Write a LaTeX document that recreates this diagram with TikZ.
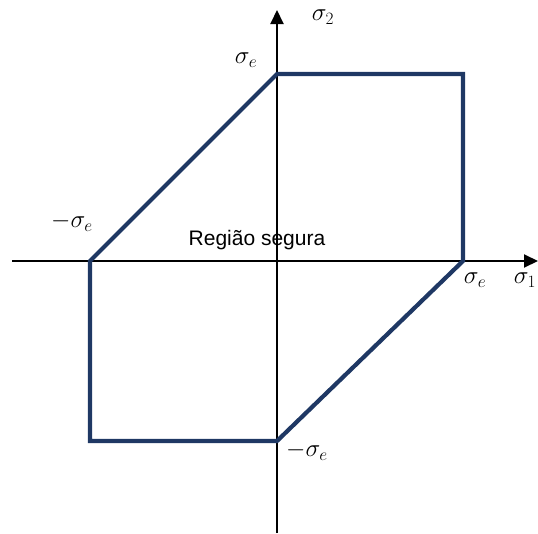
\documentclass[tikz,border=0pt]{standalone}
\usepackage{fontspec}
\setmainfont{Liberation Sans}
\usetikzlibrary{arrows.meta,positioning}
\definecolor{Rg}{HTML}{1F3864}
\tikzset{
  ax/.style={-{Triangle[length=14pt,width=13pt]}, line width=2pt},
  bnd/.style={draw=Rg, line width=4.2pt, line join=miter},
  lab/.style={font=\fontsize{21}{24}\selectfont, inner sep=0pt},
  mlab/.style={font=\fontsize{26}{30}\selectfont, inner sep=0pt},
}
\begin{document}
\begin{tikzpicture}[x=1pt, y=-1pt]
  \useasboundingbox (0,0) rectangle (538,533);
  % axes
  \coordinate (xl) at (12,261); \coordinate (xr) at (538,261);
  \coordinate (yb) at (277,533); \coordinate (yt) at (277,10);
  \node[lab] (reg) at (257,240) {Região segura};
  \draw[ax] (xl) -- (xr);
  \draw[ax] (yb) -- (yt);
  % safe region
  \coordinate (a) at (90,261); \coordinate (b) at (277,74); \coordinate (c) at (463,74);
  \coordinate (d) at (463,261); \coordinate (e) at (277,441); \coordinate (f) at (90,441);
  \draw[bnd] (a) -- (b) -- (c) -- (d) -- (e) -- (f) -- cycle;
  \node[mlab] (s2) at (323,17) {$\sigma_2$};
  \node[mlab] (s1) at (525,280) {$\sigma_1$};
  \node[mlab] (se1) at (246,60) {$\sigma_e$};
  \node[mlab] (se2) at (72,222) {$-\sigma_e$};
  \node[mlab] (se3) at (475,280) {$\sigma_e$};
  \node[mlab] (se4) at (307,451) {$-\sigma_e$};
\end{tikzpicture}
\end{document}
